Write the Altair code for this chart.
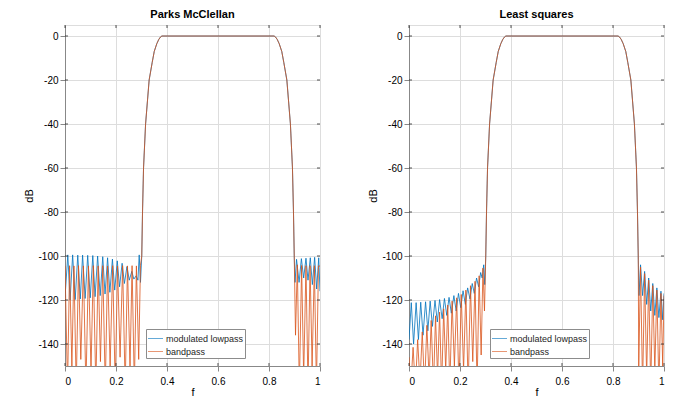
import altair as alt
import pandas as pd

BLUE = "#0072BD"
ORANGE = "#D95319"
SERIES = ["modulated lowpass", "bandpass"]

# transition + passband (shared by both series, both designs)
trans_f = [0.301, 0.304, 0.308, 0.316, 0.330, 0.342, 0.350, 0.360, 0.368, 0.375, 0.380,
           0.820, 0.825, 0.832, 0.840, 0.850, 0.858, 0.870, 0.884, 0.892, 0.896, 0.899]
trans_db = [-100, -80, -60, -40, -20, -12, -7, -3.5, -1.5, -0.4, 0,
            0, -0.4, -1.5, -3.5, -7, -12, -20, -40, -60, -80, -100]

# ---- Parks McClellan ----
pm_blue_lo_f = [0.000, 0.011, 0.020, 0.030, 0.040, 0.050, 0.060, 0.069, 0.079, 0.089, 0.099,
                0.109, 0.118, 0.128, 0.138, 0.148, 0.157, 0.167, 0.176, 0.186, 0.195, 0.205,
                0.214, 0.224, 0.233, 0.243, 0.252, 0.262, 0.270, 0.279, 0.286, 0.291, 0.296]
pm_blue_lo_db = [-119, -99.5, -120, -99.5, -119.8, -99.6, -119.5, -99.6, -119.3, -99.7, -119,
                 -99.8, -118.5, -100, -118, -100.3, -117.3, -100.8, -116.5, -101.4, -115.5, -102.2,
                 -114, -103.3, -112.5, -104.8, -111, -107, -110.5, -109, -111, -99.5, -112]
pm_blue_hi_f = [0.902, 0.908, 0.918, 0.927, 0.936, 0.945, 0.953, 0.962, 0.970, 0.979, 0.987, 0.995, 1.000]
pm_blue_hi_db = [-112, -101.5, -112, -101.2, -110, -101, -111, -100.8, -113, -100.6, -115, -100.8, -116]

pm_or_lo_f = [0.000, 0.010, 0.018, 0.027, 0.035, 0.044, 0.053, 0.062, 0.072, 0.082, 0.092,
              0.102, 0.111, 0.121, 0.130, 0.139, 0.148, 0.158, 0.167, 0.177, 0.187, 0.197,
              0.206, 0.216, 0.226, 0.236, 0.245, 0.255, 0.263, 0.272, 0.280, 0.289, 0.296]
pm_or_lo_db = [-104.5, -160, -104.4, -150, -104.5, -160, -104.4, -147, -104.5, -160, -104.5,
               -152, -104.4, -160, -104.5, -148, -104.4, -160, -104.5, -150, -104.4, -160,
               -104.5, -146, -104.4, -160, -104.5, -151, -104.4, -160, -104.5, -147, -104.2]
pm_or_hi_f = [0.904, 0.911, 0.919, 0.928, 0.936, 0.945, 0.953, 0.961, 0.969, 0.978, 0.986, 0.994, 1.000]
pm_or_hi_db = [-136, -104, -160, -104.3, -155, -104.4, -160, -104.4, -150, -104.4, -160, -104.5, -104.6]

# ---- Least squares ----
ls_blue_lo_f = [0.000, 0.009, 0.018, 0.028, 0.037, 0.046, 0.055, 0.065, 0.074, 0.083, 0.092,
                0.102, 0.111, 0.120, 0.130, 0.139, 0.148, 0.157, 0.166, 0.176, 0.185, 0.194,
                0.203, 0.212, 0.221, 0.230, 0.239, 0.248, 0.256, 0.265, 0.273, 0.281, 0.287,
                0.293, 0.297]
ls_blue_lo_db = [-138, -121.2, -140, -121.2, -138, -121, -136, -120.8, -134, -120.5, -132,
                 -120.2, -130, -119.8, -128.5, -119.3, -127, -118.8, -126, -118, -125, -117,
                 -123.5, -115.8, -122, -114.5, -119.5, -112.5, -117, -110, -114, -107.5, -110,
                 -104, -113]
ls_blue_hi_f = [0.902, 0.908, 0.916, 0.924, 0.932, 0.940, 0.948, 0.956, 0.964, 0.972, 0.980, 0.988, 0.995, 1.000]
ls_blue_hi_db = [-118, -104, -118, -107, -122, -110, -125, -112.5, -127, -114.5, -128, -116, -129, -117]

ls_or_lo_f = [0.000, 0.007, 0.016, 0.025, 0.034, 0.043, 0.052, 0.061, 0.070, 0.079, 0.087,
              0.096, 0.104, 0.112, 0.120, 0.128, 0.136, 0.144, 0.152, 0.160, 0.169, 0.178,
              0.187, 0.196, 0.205, 0.214, 0.223, 0.232, 0.241, 0.250, 0.259, 0.267, 0.275,
              0.283, 0.290, 0.296]
ls_or_lo_db = [-146, -160, -141.5, -160, -138, -158, -134.5, -160, -131.5, -156, -129.3,
               -160, -127.2, -155, -125.5, -160, -124, -152, -122.3, -160, -120.5, -150,
               -119, -160, -117.5, -152, -115.5, -160, -113.5, -148, -111.5, -160, -109,
               -145, -105.5, -125]
ls_or_hi_f = [0.901, 0.908, 0.916, 0.924, 0.932, 0.940, 0.948, 0.956, 0.964, 0.972, 0.980, 0.988, 0.995, 1.000]
ls_or_hi_db = [-150, -105, -160, -108, -155, -111, -160, -113.5, -152, -115.5, -160, -117, -150, -118]

x_ticks = [0, 0.2, 0.4, 0.6, 0.8, 1]
y_ticks = [0, -20, -40, -60, -80, -100, -120, -140]

W, H = 255, 341
TICK = 3
AX = "#262626"


def series_frame(name, lo_f, lo_db, hi_f, hi_db):
    f = lo_f + trans_f + hi_f
    d = lo_db + trans_db + hi_db
    return pd.DataFrame({"f": f, "dB": d, "series": name, "i": range(len(f))})


xscale = alt.Scale(domain=[0, 1], nice=False)
yscale = alt.Scale(domain=[-150, 5], nice=False, zero=False)


def panel(title, blue_df, orange_df):
    color = alt.Color("series:N",
                      scale=alt.Scale(domain=SERIES, range=[BLUE, ORANGE]),
                      legend=alt.Legend(title=None, orient="none", legendX=81, legendY=304,
                                        direction="vertical", symbolType="stroke",
                                        symbolSize=225, symbolStrokeWidth=1,
                                        labelFontSize=9, labelFont="Liberation Sans",
                                        labelColor=AX, padding=1.5, rowPadding=0,
                                        fillColor="white", strokeColor="#8c8c8c",
                                        labelOffset=2.5, symbolOpacity=0.6))
    x = alt.X("f:Q", scale=xscale,
              axis=alt.Axis(values=x_ticks, format="~g", title="f", labelPadding=5,
                            titlePadding=0, titleFontWeight="normal"))
    y = alt.Y("dB:Q", scale=yscale,
              axis=alt.Axis(values=y_ticks, labelExpr="'' + datum.value",
                            title="dB", titlePadding=3, titleFontWeight="normal"))
    b = alt.Chart(blue_df).mark_line(strokeWidth=0.8, clip=True).encode(
        x=x, y=y, color=color, order="i:Q")
    o = alt.Chart(orange_df).mark_line(strokeWidth=0.8, clip=True).encode(
        x=x, y=y, color=color, order="i:Q")

    # inward tick marks on all four sides (MATLAB box style)
    ydf = pd.DataFrame({"dB": y_ticks})
    xdf = pd.DataFrame({"f": x_ticks})
    yl = alt.Chart(ydf).mark_rule(color=AX, strokeWidth=0.8).encode(
        y=alt.Y("dB:Q", scale=yscale), x=alt.value(0), x2=alt.value(TICK))
    yr = alt.Chart(ydf).mark_rule(color=AX, strokeWidth=0.8).encode(
        y=alt.Y("dB:Q", scale=yscale), x=alt.value(W - TICK), x2=alt.value(W))
    xb = alt.Chart(xdf).mark_rule(color=AX, strokeWidth=0.8).encode(
        x=alt.X("f:Q", scale=xscale), y=alt.value(H - TICK), y2=alt.value(H))
    xt = alt.Chart(xdf).mark_rule(color=AX, strokeWidth=0.8).encode(
        x=alt.X("f:Q", scale=xscale), y=alt.value(0), y2=alt.value(TICK))

    return alt.layer(b, o, yl, yr, xb, xt).properties(
        width=W, height=H,
        title=alt.TitleParams(title, fontSize=11, fontWeight="bold",
                              font="Liberation Sans", color="black", offset=5))


pm = panel("Parks McClellan",
           series_frame(SERIES[0], pm_blue_lo_f, pm_blue_lo_db, pm_blue_hi_f, pm_blue_hi_db),
           series_frame(SERIES[1], pm_or_lo_f, pm_or_lo_db, pm_or_hi_f, pm_or_hi_db))
ls = panel("Least squares",
           series_frame(SERIES[0], ls_blue_lo_f, ls_blue_lo_db, ls_blue_hi_f, ls_blue_hi_db),
           series_frame(SERIES[1], ls_or_lo_f, ls_or_lo_db, ls_or_hi_f, ls_or_hi_db))

chart = alt.hconcat(pm, ls, spacing=46).resolve_legend(color="independent").configure_view(
    stroke=AX, strokeWidth=0.8
).configure_axis(
    grid=True, gridColor="#dcdcdc", gridWidth=0.6, domain=False, ticks=False,
    labelFont="Liberation Sans", labelFontSize=10, labelColor=AX, labelPadding=5,
    titleFont="Liberation Sans", titleFontSize=11, titleFontWeight="normal",
    titleColor=AX
).configure(background="white", padding={"left": 15, "top": 0, "right": 5, "bottom": 5})

chart.save("out.html", embed_options={"renderer": "svg", "actions": False})
